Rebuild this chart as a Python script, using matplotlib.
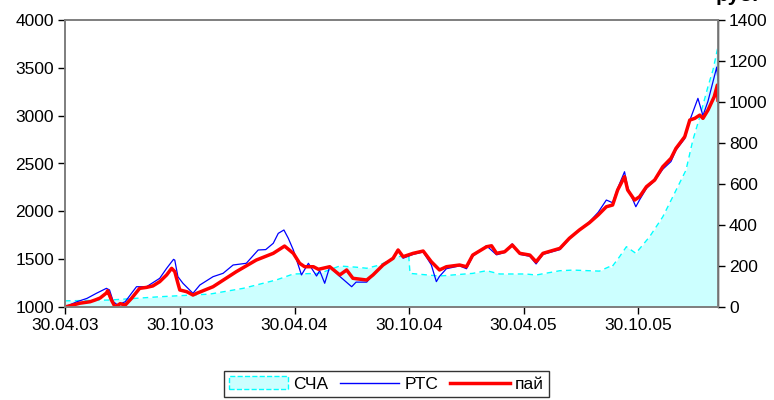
import matplotlib
matplotlib.use('Agg')
import matplotlib.pyplot as plt
import matplotlib.dates as mdates
from matplotlib.patches import Patch
from matplotlib.lines import Line2D
import pandas as pd

plt.rcParams['font.family'] = ['Liberation Sans', 'DejaVu Sans']

# пай (left axis)
pai_dates = ['2003-04-30', '2003-05-24', '2003-06-09', '2003-06-17', '2003-06-25', '2003-07-05',
             '2003-07-07', '2003-07-13', '2003-07-19', '2003-07-27', '2003-08-04', '2003-08-14',
             '2003-08-27', '2003-09-07', '2003-09-17', '2003-09-28', '2003-10-09', '2003-10-17',
             '2003-10-22', '2003-10-27', '2003-10-30', '2003-11-10', '2003-11-20', '2003-11-26',
             '2003-12-22', '2004-01-28', '2004-02-29', '2004-03-27', '2004-04-14', '2004-04-28',
             '2004-05-08', '2004-05-16', '2004-05-30', '2004-06-07', '2004-06-25', '2004-07-11',
             '2004-07-22', '2004-08-01', '2004-08-23', '2004-09-02', '2004-09-18', '2004-10-04',
             '2004-10-12', '2004-10-20', '2004-11-05', '2004-11-21', '2004-12-04', '2004-12-17',
             '2004-12-28', '2005-01-18', '2005-01-29', '2005-02-08', '2005-03-02', '2005-03-10',
             '2005-03-18', '2005-03-31', '2005-04-12', '2005-04-24', '2005-05-10', '2005-05-20',
             '2005-05-31', '2005-06-27', '2005-07-12', '2005-07-28', '2005-08-13', '2005-08-27',
             '2005-09-09', '2005-09-19', '2005-09-27', '2005-10-08', '2005-10-13', '2005-10-24',
             '2005-11-01', '2005-11-12', '2005-11-25', '2005-12-08', '2005-12-21', '2005-12-29',
             '2006-01-12', '2006-01-20', '2006-01-28', '2006-02-05', '2006-02-10', '2006-02-18',
             '2006-02-28', '2006-03-05', '2006-03-06']
pai = [1000, 1040, 1055, 1073, 1094, 1146,
       1170, 1073, 1000, 1035, 1020, 1090,
       1195, 1205, 1220, 1265, 1335, 1404,
       1370, 1248, 1178, 1160, 1125, 1143,
       1212, 1369, 1491, 1561, 1637, 1561,
       1457, 1421, 1421, 1394, 1421, 1335,
       1387, 1300, 1282, 1335, 1439, 1509,
       1596, 1526, 1561, 1585, 1473, 1387,
       1421, 1439, 1421, 1543, 1630, 1640,
       1561, 1578, 1648, 1561, 1543, 1473,
       1561, 1613, 1718, 1805, 1881, 1962,
       2048, 2066, 2223, 2362, 2223, 2118,
       2153, 2258, 2327, 2466, 2554, 2658,
       2780, 2954, 2972, 3006, 2972, 3058,
       3198, 3320, 3163]

# РТС (left axis)
rts_dates = ['2003-04-30', '2003-05-19', '2003-06-04', '2003-06-19', '2003-07-05', '2003-07-10',
             '2003-07-16', '2003-07-23', '2003-08-04', '2003-08-14', '2003-08-22', '2003-09-07',
             '2003-09-28', '2003-10-09', '2003-10-20', '2003-10-22', '2003-10-27', '2003-11-04',
             '2003-11-20', '2003-12-01', '2003-12-22', '2004-01-07', '2004-01-23', '2004-02-13',
             '2004-03-03', '2004-03-15', '2004-03-27', '2004-04-04', '2004-04-13', '2004-04-20',
             '2004-04-28', '2004-05-11', '2004-05-22', '2004-06-04', '2004-06-09', '2004-06-17',
             '2004-06-25', '2004-07-11', '2004-07-30', '2004-08-06', '2004-08-23', '2004-09-02',
             '2004-09-18', '2004-10-04', '2004-10-12', '2004-10-20', '2004-11-05', '2004-11-21',
             '2004-12-04', '2004-12-12', '2004-12-17', '2004-12-28', '2005-01-18', '2005-01-29',
             '2005-02-08', '2005-03-02', '2005-03-18', '2005-03-31', '2005-04-12', '2005-04-24',
             '2005-05-10', '2005-05-20', '2005-05-31', '2005-06-27', '2005-07-12', '2005-07-28',
             '2005-08-13', '2005-08-27', '2005-09-09', '2005-09-19', '2005-09-27', '2005-10-08',
             '2005-10-13', '2005-10-26', '2005-11-01', '2005-11-12', '2005-11-25', '2005-12-08',
             '2005-12-21', '2005-12-29', '2006-01-12', '2006-01-20', '2006-02-02', '2006-02-10',
             '2006-02-18', '2006-03-04', '2006-03-06']
rts = [1000, 1055, 1090, 1143, 1195, 1178,
       1055, 1020, 1055, 1143, 1212, 1212,
       1300, 1404, 1498, 1490, 1317, 1248,
       1143, 1230, 1317, 1352, 1439, 1457,
       1596, 1600, 1666, 1770, 1805, 1718,
       1596, 1335, 1457, 1324, 1380, 1248,
       1421, 1320, 1212, 1260, 1260, 1335,
       1439, 1509, 1600, 1510, 1550, 1575,
       1440, 1265, 1320, 1400, 1430, 1400,
       1530, 1640, 1545, 1570, 1660, 1550,
       1530, 1450, 1550, 1600, 1710, 1805,
       1890, 1990, 2118, 2090, 2240, 2414,
       2250, 2048, 2120, 2240, 2320, 2440,
       2520, 2640, 2760, 2950, 3181, 3000,
       3150, 3508, 3372]

# СЧА, right axis
scha_dates = ['2003-04-30', '2003-07-11', '2003-09-28', '2003-12-17', '2004-02-08', '2004-04-01',
              '2004-04-28', '2004-06-09', '2004-07-11', '2004-08-07', '2004-08-23', '2004-09-13',
              '2004-10-09', '2004-10-25', '2004-10-29', '2004-10-31', '2004-12-17', '2005-02-08',
              '2005-03-02', '2005-03-23', '2005-05-04', '2005-05-20', '2005-06-27', '2005-07-18',
              '2005-08-29', '2005-09-14', '2005-09-17', '2005-09-30', '2005-10-11', '2005-10-26',
              '2005-11-17', '2005-12-08', '2005-12-24', '2006-01-14', '2006-01-25', '2006-02-05',
              '2006-02-18', '2006-02-26', '2006-03-06']
scha = [30, 34, 50, 63, 91, 132,
        161, 164, 200, 194, 189, 205,
        245, 249, 249, 164, 151, 164,
        177, 161, 161, 156, 177, 180,
        175, 197, 192, 245, 294, 262,
        343, 440, 538, 668, 815, 928,
        1075, 1156, 1270]

xtick_dates = ['2003-04-30', '2003-10-30', '2004-04-30', '2004-10-30', '2005-04-30', '2005-10-30']

pai_dates = pd.to_datetime(pai_dates)
rts_dates = pd.to_datetime(rts_dates)
scha_dates = pd.to_datetime(scha_dates)

fig = plt.figure(figsize=(7.74, 4), dpi=100)
ax = fig.add_axes([65 / 774, 93 / 400, 653 / 774, 287 / 400])
ax2 = ax.twinx()

ax2.fill_between(scha_dates, scha, 0, color='#CCFFFF', lw=0)
ax2.plot(scha_dates, scha, color='#00FFFF', lw=1, ls=(0, (4, 3)))
ax2.set_ylim(0, 1400)
ax2.set_yticks(range(0, 1401, 200))

ax.plot(rts_dates, rts, color='#0000FF', lw=0.9)
ax.plot(pai_dates, pai, color='#FF0000', lw=2.5)
ax.set_ylim(1000, 4000)
ax.set_yticks(range(1000, 4001, 500))
ax.set_zorder(ax2.get_zorder() + 1)
ax.patch.set_visible(False)

ax.set_xlim(pd.Timestamp('2003-04-30'), pd.Timestamp('2006-03-06'))
ax.set_xticks(pd.to_datetime(xtick_dates))
ax.xaxis.set_major_formatter(mdates.DateFormatter('%d.%m.%y'))

for a in (ax, ax2):
    for s in a.spines.values():
        s.set_color('#808080')
        s.set_linewidth(1.3)
    a.tick_params(direction='out', length=5, width=1, labelsize=12.5, pad=3)
ax2.spines['right'].set_color('black')
ax2.spines['right'].set_linewidth(1)

# partly clipped heading at the top edge, as in the source image
fig.text(716 / 774, 0.998, 'руб.', fontsize=15, fontweight='bold', ha='left', va='baseline')

handles = [Patch(facecolor='#CCFFFF', edgecolor='#00FFFF', linestyle='--', lw=1),
           Line2D([], [], color='#0000FF', lw=1),
           Line2D([], [], color='#FF0000', lw=2.5)]
leg = fig.legend(handles, ['СЧА', 'РТС', 'пай'], loc='lower center', bbox_to_anchor=(0.499, -0.005),
                 ncol=3, fontsize=12.5, frameon=True, fancybox=False, edgecolor='black',
                 handlelength=3.4, handletextpad=0.3, columnspacing=0.7, borderpad=0.3,
                 borderaxespad=0.3)
leg.get_frame().set_linewidth(1)

fig.savefig('out.png', dpi=100)
